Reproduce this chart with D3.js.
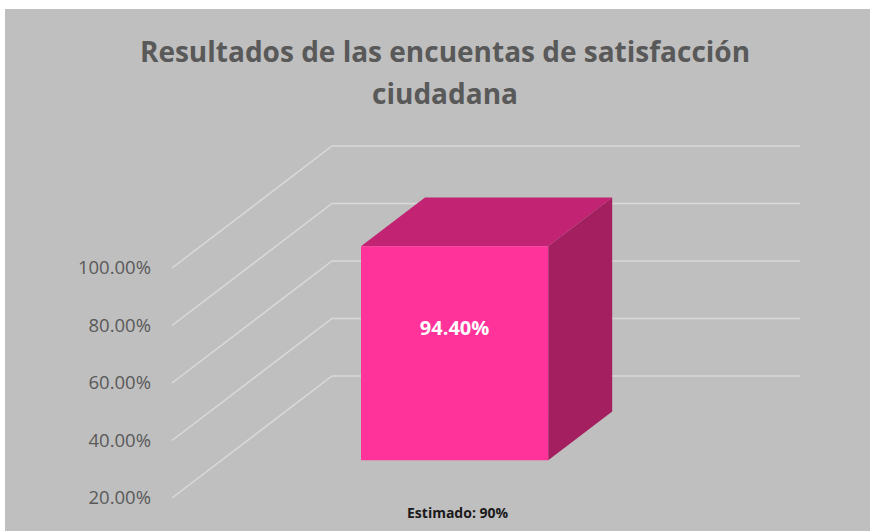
<!DOCTYPE html>
<html lang="es">
<head>
    <meta charset="UTF-8">
    <title>Resultados de las encuentas de satisfacción ciudadana</title>
    <script src="https://d3js.org/d3.v7.min.js"></script>
    <style>
        html, body { margin: 0; padding: 0; background: #ffffff; }
        svg { display: block; }
        .tick-label { font-family: "Open Sans", sans-serif; font-size: 18.5px; fill: #595959; }
        .title { font-family: "Open Sans", sans-serif; font-weight: bold; font-size: 28px; fill: #595959; }
    </style>
</head>
<body>
    <svg width="870" height="531"></svg>
    <script>
        const titleLines = ["Resultados de las encuentas de satisfacción", "ciudadana"];
        const categories = ["Estimado: 90%"];
        const values = [94.40];
        const tickValues = [20, 40, 60, 80, 100];

        const svg = d3.select("svg"),
            width = +svg.attr("width"),
            height = +svg.attr("height");

        // chart background
        svg.append("rect")
            .attr("x", 5).attr("y", 9)
            .attr("width", width - 5).attr("height", height - 9)
            .attr("fill", "#bfbfbf");

        // front plane scales
        const y = d3.scaleLinear().domain([20, 100]).range([498, 268]);
        const x = d3.scaleBand().domain(categories).range([171, 639])
            .paddingInner(0.6).paddingOuter(0.3);

        // depth projection (0 = front, 1 = back wall)
        const depthX = d3.scaleLinear().domain([0, 1]).range([0, 160]);
        const depthY = d3.scaleLinear().domain([0, 1]).range([0, -122]);
        const backRight = 800;

        // gridlines: floor-side diagonal then back wall
        svg.append("g").selectAll("path")
            .data(tickValues)
            .join("path")
            .attr("d", v => {
                const p = d3.path();
                p.moveTo(172, y(v));
                p.lineTo(172 + depthX(1), y(v) + depthY(1));
                p.lineTo(backRight, y(v) + depthY(1));
                return p.toString();
            })
            .attr("fill", "none")
            .attr("stroke", "#d9d9d9")
            .attr("stroke-width", 1.5);

        // tick labels
        svg.append("g").selectAll("text")
            .data(tickValues)
            .join("text")
            .attr("class", "tick-label")
            .attr("x", 151)
            .attr("y", v => y(v))
            .attr("dy", "0.35em")
            .attr("text-anchor", "end")
            .text(v => d3.format(".2f")(v) + "%");

        // 3D bars
        const d0 = 0.31, d1 = 0.71;
        const pt = (px, py, d) => [px + depthX(d), py + depthY(d)];
        const bars = svg.append("g").selectAll("g")
            .data(categories.map((c, i) => ({ c, v: values[i] })))
            .join("g");

        // top face
        bars.append("polygon")
            .attr("points", d => {
                const xl = x(d.c), xr = x(d.c) + x.bandwidth(), yt = y(d.v);
                return [pt(xl, yt, d0), pt(xr, yt, d0), pt(xr, yt, d1), pt(xl, yt, d1)].join(" ");
            })
            .attr("fill", "#c22373");

        // side face
        bars.append("polygon")
            .attr("points", d => {
                const xr = x(d.c) + x.bandwidth(), yt = y(d.v), yb = y(20);
                return [pt(xr, yt, d0), pt(xr, yt, d1), pt(xr, yb, d1), pt(xr, yb, d0)].join(" ");
            })
            .attr("fill", "#a31f5f");

        // front face
        bars.append("polygon")
            .attr("points", d => {
                const xl = x(d.c), xr = x(d.c) + x.bandwidth(), yt = y(d.v), yb = y(20);
                return [pt(xl, yt, d0), pt(xr, yt, d0), pt(xr, yb, d0), pt(xl, yb, d0)].join(" ");
            })
            .attr("fill", "#ff3399");

        // value label
        bars.append("text")
            .attr("x", d => x(d.c) + x.bandwidth() / 2 + depthX(d0))
            .attr("y", 328)
            .attr("dy", "0.35em")
            .attr("text-anchor", "middle")
            .attr("font-family", "Open Sans, sans-serif")
            .attr("font-weight", "bold")
            .attr("font-size", 20)
            .attr("fill", "#ffffff")
            .text(d => d3.format(".2f")(d.v) + "%");

        // category label
        bars.append("text")
            .attr("x", d => x(d.c) + x.bandwidth() / 2 + depthX(d0) + 3)
            .attr("y", 518)
            .attr("text-anchor", "middle")
            .attr("font-family", "Open Sans, sans-serif")
            .attr("font-weight", "bold")
            .attr("font-size", 14)
            .attr("fill", "#1a1a1a")
            .text(d => d.c);

        // title
        svg.append("g").selectAll("text")
            .data(titleLines)
            .join("text")
            .attr("class", "title")
            .attr("x", 445)
            .attr("y", (d, i) => 62 + i * 42)
            .attr("text-anchor", "middle")
            .text(d => d);
    </script>
</body>
</html>
